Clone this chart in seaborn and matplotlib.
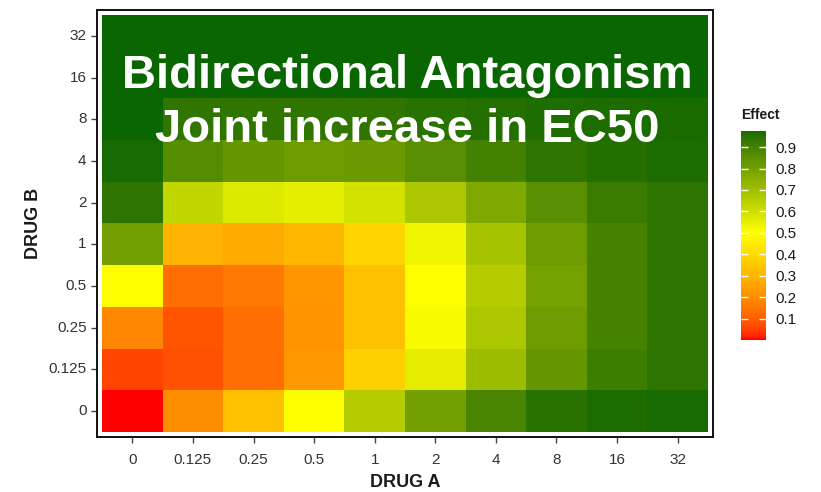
import numpy as np
import pandas as pd
import matplotlib
matplotlib.use("Agg")
import matplotlib.pyplot as plt
import seaborn as sns
from matplotlib.colors import ListedColormap, to_rgb

# Dose levels for each drug
drug_a = ["0", "0.125", "0.25", "0.5", "1", "2", "4", "8", "16", "32"]
drug_b = ["0", "0.125", "0.25", "0.5", "1", "2", "4", "8", "16", "32"]

# Effect for each DRUG B level (rows, ascending dose) across DRUG A levels
effect_b0 = [0.00, 0.20, 0.33, 0.50, 0.66, 0.80, 0.89, 0.95, 0.97, 0.98]
effect_b0125 = [0.055, 0.076, 0.13, 0.227, 0.372, 0.555, 0.71, 0.83, 0.912, 0.945]
effect_b025 = [0.185, 0.085, 0.13, 0.218, 0.33, 0.515, 0.675, 0.81, 0.895, 0.945]
effect_b05 = [0.50, 0.13, 0.153, 0.222, 0.33, 0.50, 0.66, 0.795, 0.895, 0.945]
effect_b1 = [0.80, 0.295, 0.271, 0.307, 0.383, 0.535, 0.685, 0.81, 0.895, 0.945]
effect_b2 = [0.945, 0.625, 0.57, 0.553, 0.59, 0.675, 0.77, 0.855, 0.915, 0.945]
effect_b4 = [0.98, 0.86, 0.83, 0.81, 0.82, 0.855, 0.90, 0.945, 0.96, 0.97]
effect_b8 = [0.99, 0.94, 0.94, 0.94, 0.94, 0.95, 0.96, 0.965, 0.97, 0.975]
effect_b16 = [0.99, 0.99, 0.99, 0.99, 0.99, 0.99, 0.99, 0.99, 0.99, 0.99]
effect_b32 = [0.99, 0.99, 0.99, 0.99, 0.99, 0.99, 0.99, 0.99, 0.99, 0.99]

legend_ticks = [0.1, 0.2, 0.3, 0.4, 0.5, 0.6, 0.7, 0.8, 0.9]

rows = [effect_b0, effect_b0125, effect_b025, effect_b05, effect_b1,
        effect_b2, effect_b4, effect_b8, effect_b16, effect_b32]
df = pd.DataFrame(rows, index=drug_b, columns=drug_a).iloc[::-1]

# ---- diverging red / yellow / darkgreen palette interpolated in CIELAB ----
_M = np.array([[0.4124, 0.3576, 0.1805],
               [0.2126, 0.7152, 0.0722],
               [0.0193, 0.1192, 0.9505]])
_WHITE = np.array([0.95047, 1.0, 1.08883])
_D = 6 / 29


def _to_linear(c):
    c = np.asarray(c, float)
    return np.where(c <= 0.04045, c / 12.92, ((c + 0.055) / 1.055) ** 2.4)


def _to_srgb(c):
    c = np.clip(c, 0, None)
    return np.where(c <= 0.0031308, 12.92 * c, 1.055 * c ** (1 / 2.4) - 0.055)


def rgb_to_lab(rgb):
    xyz = _M @ _to_linear(rgb) / _WHITE
    f = np.where(xyz > _D ** 3, np.cbrt(xyz), xyz / (3 * _D ** 2) + 4 / 29)
    return np.array([116 * f[1] - 16, 500 * (f[0] - f[1]), 200 * (f[1] - f[2])])


def lab_to_rgb(lab):
    fy = (lab[0] + 16) / 116
    f = np.array([fy + lab[1] / 500, fy, fy - lab[2] / 200])
    xyz = np.where(f > _D, f ** 3, 3 * _D ** 2 * (f - 4 / 29)) * _WHITE
    rgb = np.linalg.inv(_M) @ xyz
    return np.clip(_to_srgb(rgb), 0, 1)


low, mid, high = (rgb_to_lab(to_rgb(c)) for c in ("red", "yellow", "darkgreen"))
colors = []
for v in np.linspace(0, 1, 256):
    if v <= 0.5:
        lab = low + (mid - low) * (v / 0.5)
    else:
        lab = mid + (high - mid) * ((v - 0.5) / 0.5)
    colors.append(lab_to_rgb(lab))
cmap = ListedColormap(colors)

# ---- figure ----
plt.rcParams["font.family"] = ["Liberation Sans", "DejaVu Sans"]
W, H = 821, 492
fig = plt.figure(figsize=(W / 100, H / 100), dpi=100)
ax = fig.add_axes([97 / W, 1 - 437 / H, 616 / W, 427 / H])
cax = fig.add_axes([741 / W, 1 - 340 / H, 25 / W, 209 / H])

sns.heatmap(df, ax=ax, cmap=cmap, vmin=0, vmax=1, cbar_ax=cax,
            cbar_kws={"ticks": legend_ticks}, linewidths=0)

ax.set_xlim(-0.083, 10.083)
ax.set_ylim(10.12, -0.12)
for side in ("left", "right", "top", "bottom"):
    ax.spines[side].set_visible(True)
    ax.spines[side].set_color("#111111")
    ax.spines[side].set_linewidth(1.4)

ax.tick_params(axis="both", length=4.5, width=1, color="#444444",
               labelsize=11, labelcolor="#333333")
ax.tick_params(axis="x", pad=7)
ax.tick_params(axis="y", pad=3)
plt.setp(ax.get_yticklabels(), rotation=0)
plt.setp(ax.get_xticklabels(), rotation=0)

ax.set_xlabel("DRUG A", fontsize=13, fontweight="bold", color="#1a1a1a", labelpad=5)
ax.set_ylabel("DRUG B", fontsize=13, fontweight="bold", color="#1a1a1a", labelpad=5)

# colourbar styling
cbar = ax.collections[0].colorbar
cbar.outline.set_visible(False)
cax.set_ylim(0, 0.975)
cax.tick_params(axis="y", which="both", direction="in", length=5, width=1,
                color="white", left=True, right=True, labelleft=False,
                labelright=True, labelsize=11, labelcolor="#1a1a1a", pad=7)
fig.text(741 / W, 1 - 115 / H, "Effect", fontsize=10, fontweight="bold",
         color="#1a1a1a", ha="left", va="center")

# headline over the panel
fig.text(407 / W, 1 - 88 / H, "Bidirectional Antagonism", color="white",
         fontsize=34, fontweight="bold", ha="center", va="baseline")
fig.text(407 / W, 1 - 142 / H, "Joint increase in EC50", color="white",
         fontsize=34, fontweight="bold", ha="center", va="baseline")

fig.savefig("out.png", dpi=100, facecolor="white")
